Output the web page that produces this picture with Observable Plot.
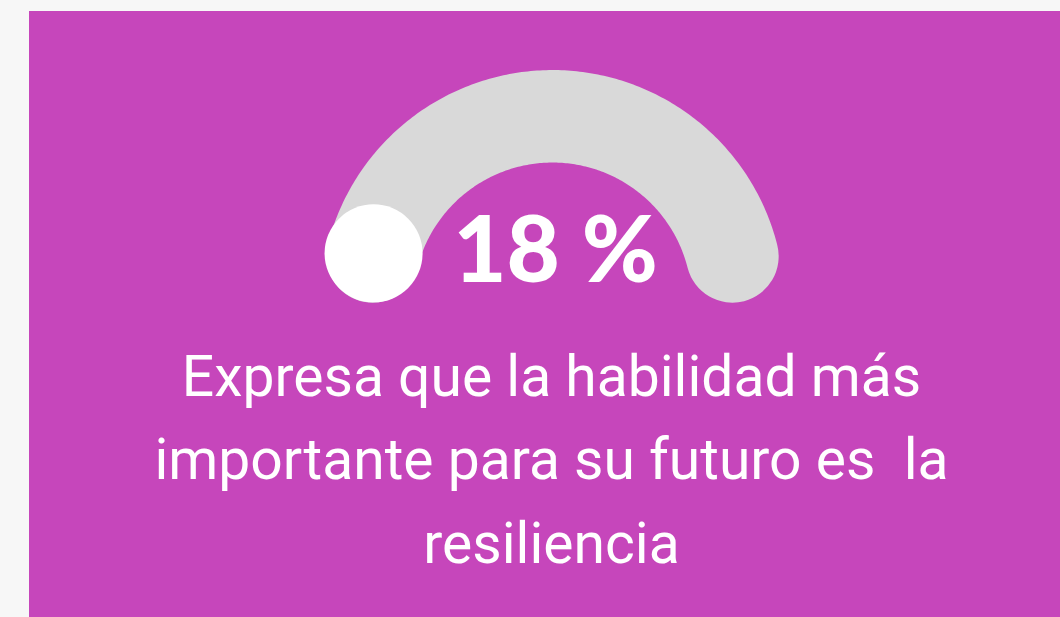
<!DOCTYPE html>
<html>
<head>
<meta charset="utf-8">
<script src="https://cdn.jsdelivr.net/npm/d3@7"></script>
<script src="https://cdn.jsdelivr.net/npm/@observablehq/plot@0.6"></script>
<style>
  html, body { margin: 0; padding: 0; background: #f7f7f7; }
  body { width: 1060px; height: 617px; overflow: hidden; position: relative; }
  #panel { position: absolute; left: 29px; top: 11px; width: 1031px; height: 606px; background: #c646bb; }
  #panel svg { display: block; }
</style>
</head>
<body>
<div id="panel"></div>
<script>
// ---- data ----
const value = 18;            // percentage shown
const maxValue = 100;        // gauge full scale
const valueLabel = "18 %";
const captionLines = [
  "Expresa que la habilidad más",
  "importante para su futuro es  la",
  "resiliencia"
];

// ---- gauge geometry (layout) ----
const W = 1031, H = 606;
const cx = 523, cy = 290.4;          // gauge centre within panel (px)
const R = 185.6;                      // track mid-radius
const band = 92.5;                    // track thickness
const startDeg = 165.8, sweepDeg = 151.6;

const angleOf = v => (startDeg - (v / maxValue) * sweepDeg) * Math.PI / 180;
const track = d3.range(0, maxValue + 0.5, 0.5).map(v => ({x: R * Math.cos(angleOf(v)), y: R * Math.sin(angleOf(v))}));
const knob = [{x: R * Math.cos(angleOf(0)) + 1, y: R * Math.sin(angleOf(0)) + 3}];

const chart = Plot.plot({
  width: W,
  height: H,
  margin: 0,
  style: {background: "transparent", overflow: "visible"},
  x: {domain: [-cx, W - cx], axis: null},
  y: {domain: [cy - H, cy], axis: null},
  marks: [
    Plot.line(track, {x: "x", y: "y", stroke: "#d9d9d9", strokeWidth: band, strokeLinecap: "round", curve: "linear"}),
    Plot.dot(knob, {x: "x", y: "y", r: 49, fill: "white", stroke: null}),
    Plot.text([valueLabel], {x: 0, y: 20.4, text: d => d, dx: 3, textAnchor: "middle", lineAnchor: "bottom",
      fill: "white", fontSize: 92, fontWeight: 900, fontFamily: "Lato"}),
    Plot.text([captionLines.join("\n")], {x: 0, y: -260.6, text: d => d, dx: -1, textAnchor: "middle", lineAnchor: "bottom",
      lineHeight: 1.465, fill: "white", fontSize: 57, fontWeight: 400, fontFamily: "Roboto"})
  ]
});
document.getElementById("panel").appendChild(chart);
</script>
</body>
</html>
